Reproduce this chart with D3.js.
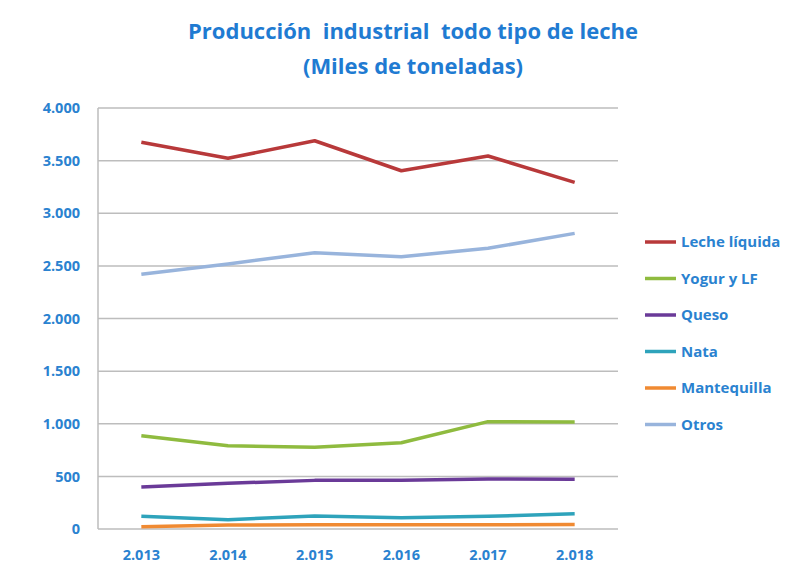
<!DOCTYPE html>
<html>
<head>
<meta charset="utf-8">
<script src="https://cdn.jsdelivr.net/npm/d3@7"></script>
<style>
  body { margin: 0; background: #fff; }
  text { font-family: "Open Sans", "Noto Sans", sans-serif; font-weight: bold; }
</style>
</head>
<body>
<div id="chart"></div>
<script>
// data (miles de toneladas)
var years = ["2.013", "2.014", "2.015", "2.016", "2.017", "2.018"];
var lecheLiquida = [3674, 3522, 3689, 3404, 3544, 3294];
var yogur = [887, 792, 776, 820, 1020, 1017];
var queso = [399, 434, 462, 462, 475, 472];
var nata = [120, 89, 124, 108, 120, 146];
var mantequilla = [22, 38, 40, 40, 40, 42];
var otros = [2420, 2518, 2625, 2587, 2667, 2809];
var seriesNames = ["Leche líquida", "Yogur y LF", "Queso", "Nata", "Mantequilla", "Otros"];
var yTicks = [0, 500, 1000, 1500, 2000, 2500, 3000, 3500, 4000];

var series = [lecheLiquida, yogur, queso, nata, mantequilla, otros];
var colors = ["#b8393a", "#8fbb3f", "#6a3a98", "#2ea3bb", "#f08a32", "#98b4dc"];
var textBlue = "#2a82d0";

var W = 801, H = 574;
var margin = { left: 98, right: 183, top: 108, bottom: 45 };
var width = W - margin.left - margin.right;
var height = H - margin.top - margin.bottom;

var svg = d3.select("#chart").append("svg")
  .attr("width", W)
  .attr("height", H);

// title
svg.append("text")
  .attr("x", 413).attr("y", 39)
  .attr("text-anchor", "middle")
  .attr("font-size", "22px")
  .attr("fill", "#1f7bd2")
  .style("white-space", "pre")
  .text("Producción  industrial  todo tipo de leche");
svg.append("text")
  .attr("x", 413).attr("y", 74)
  .attr("text-anchor", "middle")
  .attr("font-size", "22px")
  .attr("fill", "#1f7bd2")
  .text("(Miles de toneladas)");

var g = svg.append("g")
  .attr("transform", "translate(" + margin.left + "," + margin.top + ")");

var x = d3.scaleBand().domain(years).range([0, width]);
var y = d3.scaleLinear().domain([0, 4000]).range([height, 0]);

// gridlines
g.append("g")
  .selectAll("line")
  .data(yTicks).enter()
  .append("line")
  .attr("x1", 0).attr("x2", width)
  .attr("y1", d => y(d)).attr("y2", d => y(d))
  .attr("stroke", "#bdbdbd")
  .attr("stroke-width", 1.5);

g.append("line")
  .attr("x1", 0).attr("x2", 0)
  .attr("y1", 0).attr("y2", height)
  .attr("stroke", "#bdbdbd")
  .attr("stroke-width", 1.5);

// y axis
var yAxis = d3.axisLeft(y)
  .tickValues(yTicks)
  .tickSize(0)
  .tickPadding(18)
  .tickFormat(d => d3.format(",")(d).replace(/,/g, "."));
var yg = g.append("g").call(yAxis);
yg.select(".domain").remove();
yg.selectAll("text").attr("font-size", "14.5px").attr("fill", textBlue)
  .style("font-family", "'Open Sans', sans-serif").style("font-weight", "bold");

// x axis
var xAxis = d3.axisBottom(x).tickSize(0).tickPadding(21);
var xg = g.append("g").attr("transform", "translate(0," + height + ")").call(xAxis);
xg.select(".domain").remove();
xg.selectAll("text").attr("font-size", "14.5px").attr("fill", textBlue)
  .style("font-family", "'Open Sans', sans-serif").style("font-weight", "bold");

// lines
var line = d3.line()
  .x((d, i) => x(years[i]) + x.bandwidth() / 2)
  .y(d => y(d));

g.append("g")
  .selectAll("path")
  .data(series).enter()
  .append("path")
  .attr("d", d => line(d))
  .attr("fill", "none")
  .attr("stroke", (d, i) => colors[i])
  .attr("stroke-width", 3.5)
  .attr("stroke-linejoin", "round");

// legend
var legend = svg.append("g")
  .selectAll("g")
  .data(seriesNames).enter()
  .append("g")
  .attr("transform", (d, i) => "translate(645," + (242 + i * 36.5) + ")");

legend.append("line")
  .attr("x1", 0).attr("x2", 31)
  .attr("stroke", (d, i) => colors[i])
  .attr("stroke-width", 3.5);

legend.append("text")
  .attr("x", 36).attr("dy", "0.35em")
  .attr("font-size", "15px")
  .attr("fill", textBlue)
  .text(d => d);
</script>
</body>
</html>
